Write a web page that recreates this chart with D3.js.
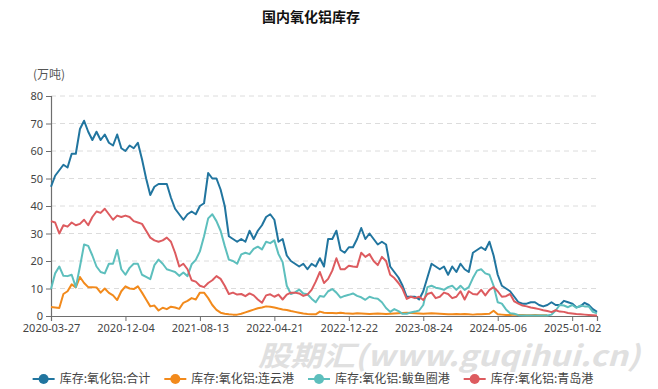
<!DOCTYPE html>
<html>
<head>
<meta charset="utf-8">
<script src="https://cdn.jsdelivr.net/npm/d3@7"></script>
<style>
  html, body { margin: 0; padding: 0; background: #fff; }
  svg { display: block; font-family: "Noto Sans CJK SC", "Noto Sans", sans-serif; }
</style>
</head>
<body>
<svg id="chart" width="658" height="389"></svg>
<script>
// 数据：每两周取一个点（类目序号 0..132）
const tickLabels = ['2020-03-27', '2020-12-04', '2021-08-13', '2022-04-21', '2022-12-22', '2023-08-24', '2024-05-06', '2025-01-02'];
const tickIdx = [0, 18, 36, 54, 72, 90, 108, 126];
const yTicks = [0, 10, 20, 30, 40, 50, 60, 70, 80];

const total = [
  47, 51, 53, 55, 54, 59, 59, 68, 71, 67,
  64, 67, 64, 66, 63, 62, 66, 61, 60, 62,
  61, 63, 57, 50, 44, 47, 48, 48, 48, 43,
  39, 37, 35, 37, 38, 37, 40, 41, 52, 50,
  50, 46, 40, 29, 28, 27, 28, 27, 31, 28,
  31, 33, 36, 37, 35, 27, 28, 22, 20, 19,
  18, 19, 17, 19, 18, 21, 18, 28, 28, 31,
  24, 23, 25, 25, 28, 32, 28, 30, 28, 26,
  27, 26, 18, 16, 14, 11, 7, 7, 7, 6,
  9, 14, 19, 18, 17, 18, 15, 18, 16, 19,
  17, 16, 23, 24, 25, 24, 27, 22, 15, 11,
  10, 9, 7, 5, 4.5, 4.5, 5, 5, 4, 3.5,
  4, 5, 4, 4, 5.5, 5, 4.5, 3.2, 3.5, 4.8,
  4, 2.5, 1.5
];
const lianyungang = [
  3.3, 3.1, 2.9, 8, 9, 11.5, 10.4, 14.2, 12, 10.5,
  10.5, 10.4, 8.5, 10, 8.4, 7.5, 5.8, 9, 10.8, 10,
  9.8, 10.8, 8.5, 6, 3.5, 3.8, 2, 3, 2.5, 3.4,
  3.1, 2.6, 4.8, 5.5, 6.5, 6, 8.5, 8.5, 6.5, 4,
  2.2, 1.2, 0.8, 0.6, 0.5, 0.5, 0.8, 1.3, 1.8, 2.3,
  2.8, 3.1, 3.5, 3.4, 3.1, 2.7, 2.4, 2.2, 1.8, 1.5,
  1.2, 0.9, 0.7, 0.6, 0.6, 1.6, 1.2, 1.1, 1.1, 1,
  1.2, 1, 0.9, 0.8, 1, 0.9, 0.8, 0.7, 0.8, 0.9,
  0.8, 0.7, 0.8, 0.9, 1, 1.1, 1.2, 1.1, 1, 0.9,
  0.8, 0.9, 1, 0.9, 0.8, 0.7, 0.6, 0.6, 0.7, 0.6,
  0.7, 0.6, 0.5, 0.6, 0.6, 0.7, 0.8, 1.9, 0.6, 0.5,
  0.4, 0.4, 0.5, 0.4, 0.4, 0.3, 0.3, 0.4, 0.3, 0.3,
  0.3
];
const bayuquan = [
  9.8, 15.5, 18, 14.6, 14.5, 15, 10.5, 18, 26, 25.5,
  22, 18, 16, 15.5, 19, 19, 24, 17, 15, 17.5,
  19, 19, 15, 14.2, 13.4, 18.5, 20.5, 19, 17, 16.5,
  16, 14.6, 15.8, 14.5, 18.8, 20.4, 23.5, 29, 35.5, 37,
  34.5, 31, 25.5, 20.5, 20, 19, 22.4, 23, 22.5, 24.4,
  25.2, 24.2, 27, 26.5, 27.5, 22.5, 19.6, 11, 8, 8.6,
  9.6, 8.2, 7.9, 6.3, 5, 7.3, 7, 9, 9.8, 8.5,
  6.7, 7.3, 7.7, 8.2, 7.3, 6.8, 5.9, 7, 6.5, 6.3,
  5, 2.9, 1.5, 2.5, 1.8, 0.8, 0.8, 1.3, 1.6, 2,
  4, 10.5, 11, 10.3, 10, 9.5, 10.5, 11, 9.5, 11,
  9.5, 10.5, 13.8, 16.5, 17, 15.5, 15, 11, 5, 4.5,
  2.4, 1, 0.8, 0.3, 0.2, 0.2, 0.2, 0.2, 0.2, 0.2,
  0.2, 0.5, 2, 4, 3.8, 3.2, 4, 3, 3.8, 3.5,
  3.5, 1.5, 1
];
const qingdao = [
  34.5, 34, 30, 33, 32.5, 34, 33, 33.5, 35, 33,
  36, 38, 37.5, 39, 37, 35, 36.5, 36, 36.5, 36,
  34.5, 34, 33.5, 31, 28.5, 27.5, 27, 27.5, 28.5, 27,
  23, 18, 19, 17, 13, 12.5, 11, 10.5, 12, 13,
  14.5, 13.5, 11, 8, 8.5, 7.8, 8, 7.2, 8.2, 7.5,
  6, 4.8, 7.5, 7.9, 7, 7.8, 6, 7.8, 8.5, 8.5,
  8.2, 7.3, 7.8, 9.5, 12.5, 16, 12, 13.5, 16.5, 21,
  17, 17, 18.3, 18, 17.8, 23, 21.5, 22.5, 20, 18.5,
  21.5, 20, 15, 13.8, 12, 9.8, 6.2, 7, 6.5, 7,
  5.8, 8, 8.5, 6.5, 7, 8.5, 8, 6.5, 7, 9,
  6, 9, 8, 7.8, 9.5, 7.5, 9.5, 10.5, 9, 7,
  7.2, 8, 5.3, 4.5, 3.8, 3.5, 3.1, 2.8, 2.5, 2.1,
  1.8, 1.4, 2.1, 1.6, 1.5, 1.1, 0.9, 0.7, 0.6, 0.5,
  0.4, 0.3, 0.2
];

const seriesNames = ['库存:氧化铝:合计', '库存:氧化铝:连云港', '库存:氧化铝:鲅鱼圈港', '库存:氧化铝:青岛港'];
const seriesColors = ['#21759f', '#f28a1c', '#5dbfbd', '#dd5b5f'];
const seriesData = [total, lianyungang, bayuquan, qingdao];

const svg = d3.select('#chart');
const width = +svg.attr('width');
const margin = {top: 96, left: 51, right: 61, bottom: 73};
const innerRight = width - margin.right;
const innerBottom = 389 - margin.bottom;

const xScale = d3.scaleLinear().domain([0, 132]).range([margin.left, innerRight]);
const yScale = d3.scaleLinear().domain([0, 80]).range([innerBottom, margin.top]);

// 标题
svg.append('text')
  .attr('x', 311).attr('y', 22)
  .attr('text-anchor', 'middle')
  .attr('font-size', 14).attr('font-weight', 'bold')
  .attr('fill', '#111')
  .text('国内氧化铝库存');

// 单位
svg.append('text')
  .attr('x', 33).attr('y', 79)
  .attr('font-size', 12).attr('fill', '#555')
  .text('(万吨)');

// 网格线
svg.append('g').selectAll('line')
  .data(yTicks.filter(d => d > 0)).join('line')
  .attr('x1', margin.left).attr('x2', innerRight)
  .attr('y1', d => yScale(d)).attr('y2', d => yScale(d))
  .attr('stroke', '#dcdcdc').attr('stroke-dasharray', '5,4');

// 坐标轴
const yAxis = d3.axisLeft(yScale).tickValues(yTicks).tickSize(5).tickPadding(3);
const yg = svg.append('g').attr('transform', `translate(${margin.left},0)`).call(yAxis);
const xAxis = d3.axisBottom(xScale).tickValues(tickIdx).tickFormat((d, i) => tickLabels[i]).tickSize(5).tickPadding(3);
const xg = svg.append('g').attr('transform', `translate(0,${innerBottom})`).call(xAxis);
[xg, yg].forEach(g => {
  g.select('.domain').attr('stroke', '#6e6e6e').attr('stroke-width', 1.2);
  g.selectAll('.tick line').attr('stroke', '#6e6e6e');
  g.selectAll('.tick text').attr('fill', '#444').attr('font-size', 11)
    .attr('font-family', '"Noto Sans", sans-serif');
});

// 水印
svg.append('text')
  .attr('x', 258).attr('y', 366)
  .attr('font-size', 28).attr('font-weight', 'bold').attr('font-style', 'italic')
  .attr('fill', '#e0e0e0')
  .attr('textLength', 382).attr('lengthAdjust', 'spacingAndGlyphs')
  .text('股期汇(www.guqihui.cn)');

// 折线
const line = d3.line().x((d, i) => xScale(i)).y(d => yScale(d));
svg.append('g').selectAll('path')
  .data(seriesData).join('path')
  .attr('d', d => line(d))
  .attr('fill', 'none')
  .attr('stroke', (d, i) => seriesColors[i])
  .attr('stroke-width', 2)
  .attr('stroke-linejoin', 'round');

// 图例
const legend = svg.append('g');
let lx = 0;
seriesNames.forEach((name, i) => {
  const item = legend.append('g').attr('transform', `translate(${lx},0)`);
  item.append('line').attr('x1', 0).attr('x2', 22).attr('y1', 0).attr('y2', 0)
    .attr('stroke', seriesColors[i]).attr('stroke-width', 2);
  item.append('circle').attr('cx', 11).attr('cy', 0).attr('r', 5)
    .attr('fill', seriesColors[i]);
  const t = item.append('text').attr('x', 27).attr('y', 4)
    .attr('font-size', 12).attr('fill', '#444').text(name);
  lx += 27 + t.node().getComputedTextLength() + 14;
});
const legendWidth = lx - 14;
legend.attr('transform', `translate(${313 - legendWidth / 2},379)`);
</script>
</body>
</html>
